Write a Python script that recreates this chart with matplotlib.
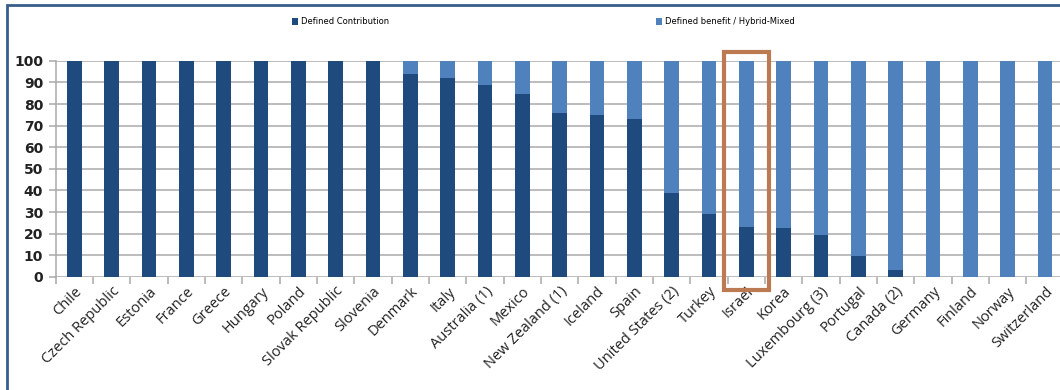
import numpy as np
import matplotlib
matplotlib.use("Agg")
import matplotlib.pyplot as plt
from matplotlib.patches import Rectangle

# share of pension assets by plan type (%)
countries = ["Chile", "Czech Republic", "Estonia", "France", "Greece", "Hungary",
             "Poland", "Slovak Republic", "Slovenia", "Denmark", "Italy",
             "Australia (1)", "Mexico", "New Zealand (1)", "Iceland", "Spain",
             "United States (2)", "Turkey", "Israel", "Korea", "Luxembourg (3)",
             "Portugal", "Canada (2)", "Germany", "Finland", "Norway", "Switzerland"]
defined_contribution = [100, 100, 100, 100, 100, 100, 100, 100, 100, 94, 92,
                        89, 84.5, 76, 75, 73, 39, 29, 23, 22.5, 19.5,
                        9.5, 3, 0, 0, 0, 0]
defined_benefit = [100 - v for v in defined_contribution]

dark = "#1f4a7d"
light = "#4f81bd"

fig = plt.figure(figsize=(10.6, 3.9), dpi=100)
ax = fig.add_axes([0.0525, 0.29, 0.951, 0.554])

x = np.arange(len(countries))
b1 = ax.bar(x, defined_contribution, width=0.39, color=dark, zorder=3,
            label="Defined Contribution")
b2 = ax.bar(x, defined_benefit, width=0.39, bottom=defined_contribution,
            color=light, zorder=3, label="Defined benefit / Hybrid-Mixed")

ax.set_xlim(-0.5, len(countries) - 0.5)
ax.set_ylim(0, 100)
ax.set_yticks(range(0, 101, 10))
ax.yaxis.grid(True, color="#a9a9a9", linewidth=1.1, zorder=0)
for s in ["top", "right", "bottom"]:
    ax.spines[s].set_visible(False)
ax.spines["left"].set_color("#a9a9a9")
ax.spines["left"].set_linewidth(1.1)

# category ticks sit between bars, labels at the centres
ax.set_xticks(np.arange(len(countries) + 1) - 0.5)
ax.set_xticklabels([])
ax.set_xticks(x, minor=True)
ax.set_xticklabels(countries, minor=True, rotation=45, ha="right",
                   rotation_mode="anchor", fontsize=10.5, family="Open Sans",
                   color="#222222")
ax.tick_params(axis="x", which="minor", length=0, pad=5)
ax.tick_params(axis="x", which="major", length=5, color="#a9a9a9", width=1.1)
ax.tick_params(axis="y", length=5, color="#a9a9a9", width=1.1, pad=4,
               labelsize=10)
for t in ax.get_yticklabels():
    t.set_fontweight("bold")
    t.set_color("#222222")

# highlight box around Israel
i = countries.index("Israel")
ax.add_patch(Rectangle((i - 0.6, -6), 1.2, 110.2, fill=False,
                       edgecolor="#bb7a52", linewidth=3, clip_on=False, zorder=5))

# legend (two widely spaced entries)
fig.legend(handles=[b1, b2], loc="center left", bbox_to_anchor=(0.268, 0.944),
           ncol=2, frameon=False, fontsize=6, handlelength=0.8,
           handleheight=0.8, handletextpad=0.3, columnspacing=32)

# outer frame
fig.patches.append(Rectangle((0.007, -0.05), 1.1, 1.037, transform=fig.transFigure,
                             fill=False, edgecolor="#385d8a", linewidth=2))

fig.savefig("out.png", dpi=100)
